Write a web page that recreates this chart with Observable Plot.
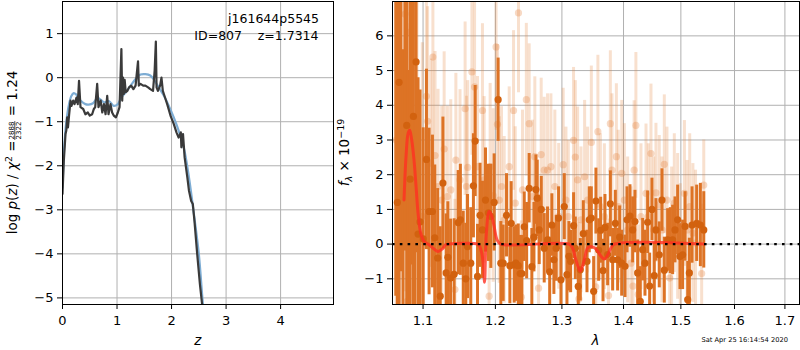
<!DOCTYPE html>
<html><head><meta charset="utf-8">
<script src="https://cdn.jsdelivr.net/npm/d3@7"></script>
<script src="https://cdn.jsdelivr.net/npm/@observablehq/plot@0.6"></script>
<style>
body{margin:0;background:#fff;}
#wrap{position:relative;width:800px;height:350px;overflow:hidden;font-family:"DejaVu Sans",sans-serif;}
#wrap > svg{position:absolute;top:0;}
</style></head><body><div id="wrap"></div>
<script>
// ---------- left panel: log p(z) ----------
const zTicks = [0, 1, 2, 3, 4];
const pTicks = [-5, -4, -3, -2, -1, 0, 1];
const zDark = [0, 0.024, 0.055, 0.07, 0.086, 0.10, 0.12, 0.147, 0.165, 0.196, 0.22, 0.257, 0.28, 0.303, 0.33, 0.38, 0.42, 0.465, 0.50, 0.544, 0.575, 0.60, 0.636, 0.66, 0.70, 0.73, 0.76, 0.79, 0.82, 0.844, 0.88, 0.91, 0.94, 0.98, 1.015, 1.046, 1.08, 1.095, 1.11, 1.125, 1.14, 1.16, 1.19, 1.22, 1.26, 1.30, 1.34, 1.385, 1.40, 1.43, 1.48, 1.52, 1.57, 1.61, 1.66, 1.69, 1.712, 1.725, 1.75, 1.79, 1.815, 1.84, 1.88, 1.92, 1.98, 2.04, 2.09, 2.13, 2.17, 2.18, 2.21, 2.24, 2.29, 2.32, 2.36, 2.39, 2.42, 2.47, 2.52, 2.56, 2.62];
const pDark = [-2.64, -1.89, -1.28, -1.2, -0.9, -1.13, -0.86, -0.52, -0.64, -0.52, -0.6, -0.45, -0.6, -0.07, -0.67, -0.71, -0.83, -0.79, -0.86, -0.83, -0.71, -0.67, -0.14, -0.67, -0.52, -0.79, -0.6, -0.83, -0.41, -0.83, -0.6, -0.79, -0.86, -0.9, -0.79, -0.67, 0.65, -0.52, 0.0, -0.37, -0.05, -0.33, -0.3, -0.22, -0.18, -0.26, -0.18, 0.37, -0.18, -0.14, -0.18, -0.18, -0.22, -0.26, -0.3, 0.16, 0.82, -0.22, -0.3, -0.18, 0.0, -0.3, -0.45, -0.6, -0.86, -1.05, -1.24, -1.36, -1.24, -1.58, -1.28, -1.81, -2.27, -2.57, -2.8, -2.87, -3.25, -4.0, -4.69, -5.14, -5.7];
const zBlue = [0, 0.03, 0.07, 0.12, 0.16, 0.207, 0.25, 0.33, 0.42, 0.48, 0.56, 0.64, 0.7, 0.76, 0.85, 0.94, 1.015, 1.076, 1.16, 1.25, 1.34, 1.43, 1.52, 1.61, 1.69, 1.77, 1.86, 1.95, 2.04, 2.13, 2.23, 2.32, 2.41, 2.5, 2.57, 2.64];
const pBlue = [-2.5, -1.6, -1.0, -0.6, -0.42, -0.35, -0.38, -0.52, -0.6, -0.61, -0.58, -0.46, -0.5, -0.56, -0.53, -0.64, -0.6, -0.45, -0.33, -0.18, -0.03, 0.07, 0.08, 0.05, -0.07, -0.23, -0.41, -0.64, -0.9, -1.2, -1.62, -2.27, -3.1, -4.0, -5.07, -6.0];

// ---------- right panel: spectrum ----------
const lamTicks = [1.1, 1.2, 1.3, 1.4, 1.5, 1.6, 1.7];
const fTicks = [-1, 0, 1, 2, 3, 4, 5, 6];
const darkWave = [
  1.0645, 1.0665, 1.0687, 1.0712, 1.0738, 1.0762, 1.0786, 1.0808, 1.0830, 1.0852, 1.0873, 1.0890, 1.0908, 1.0934, 1.0960,
  1.1002, 1.1045, 1.1080, 1.1125, 1.1156, 1.1195, 1.1230, 1.1266,
  1.1310, 1.1333, 1.1370, 1.1419, 1.1475, 1.1505, 1.1545, 1.1580, 1.1604, 1.1650, 1.1687, 1.1712, 1.1745, 1.1781, 1.1815, 1.1858, 1.1900, 1.1934, 1.1982,
  1.2040,
  1.2079, 1.2113, 1.2162, 1.2211, 1.2230, 1.2275, 1.2299, 1.2335, 1.2364, 1.2389,
  1.2424, 1.2460, 1.2498, 1.2538, 1.2570, 1.2599, 1.2620, 1.2650, 1.2681, 1.2726,
  1.2777, 1.2810, 1.2844, 1.2875, 1.2911, 1.2948, 1.2985, 1.3037, 1.3079, 1.3110,
  1.3137, 1.3184, 1.3211, 1.3258, 1.3291, 1.3339, 1.3398, 1.3435, 1.3468, 1.3506,
  1.3543, 1.3587, 1.3620, 1.3659, 1.3691, 1.3735, 1.3780, 1.3818, 1.3863, 1.3901,
  1.3935, 1.3969, 1.4025, 1.4059, 1.4109, 1.4155, 1.4194, 1.4240, 1.4285, 1.4326,
  1.4366, 1.4412, 1.4447, 1.4487, 1.4528, 1.4557, 1.4615, 1.4663, 1.4704, 1.4763,
  1.4810, 1.4852, 1.4894, 1.4942, 1.4984, 1.5032, 1.5076, 1.5124, 1.5154, 1.5203,
  1.5288, 1.5356, 1.5419];
const darkFlux = [
  7.5, 1.2, 4.66, 8.2, -2.4, 8.8, 3.42, -2.0, 1.87, 7.4, 3.68, -2.3, 5.25, 0.29, 0.64,
  0.15, 2.44, 0.94, 0.94, 0.18, -0.4, -1.5, 1.76,
  -0.83, -0.38, -0.98, -0.87, 0.62, 0.70, -0.55, -1.0, -0.07, -0.55, 1.68, 2.97, -0.93, 0.83, 0.41, 1.27, 0.9, 0.8, 1.2,
  4.16,
  -0.55, -0.55, 0.83, -0.62, 0.6, -0.6, -0.55, -0.62, -0.85, -0.85,
  0.5, 0.1, 1.61, -0.65, 0.2, 1.57, 1.32, 0.41, 1.0, -0.12,
  0.12, -0.8, 0.55, -0.45, -0.12, 0.75, -1.03, 1.08, -0.88, -0.35,
  -0.5, 0.53, -0.12, -1.22, -0.74, 0.3, -0.5, 0.7, 0.75, -1.36,
  1.24, -0.17, 0.4, -0.76, 0.48, -0.3, 1.16, -0.45, 0.6, -0.45,
  0.2, -0.55, -0.64, 0.7, 0.81, 0.41, 0.65, -0.83, -1.65, -0.16,
  -0.55, 0.63, -1.21, 1.0, -0.91, 0.41, -0.31, 1.27, -0.75, 0.12,
  0.1, 0.12, 0.41, 0.7, -0.36, -0.31, 0.51, -1.6, -0.83, 0.55,
  0.6, 0.55, 0.41];
const darkErr = [
  9, 8.5, 8, 9, 8, 9, 7.5, 7, 7, 8, 6.5, 6, 5.5, 4.5, 3.8,
  3.2, 2.6, 2.4, 2.2, 2.1, 2.0, 2.0, 1.9,
  1.7, 1.6, 1.7, 1.6, 1.5, 1.6, 1.5, 1.6, 1.5, 1.6, 1.5, 1.6, 1.5, 1.5, 1.4, 1.5, 1.4, 1.5, 1.4,
  1.2,
  1.2, 1.1, 1.2, 1.1, 1.2, 1.1, 1.1, 1.2, 1.1, 1.1,
  1.0, 1.1, 1.0, 1.1, 1.0, 1.0, 1.1, 1.0, 0.95, 1.0,
  0.95, 1.0, 0.9, 1.0, 0.95, 0.9, 1.0, 0.95, 0.9, 1.0,
  0.9, 0.95, 0.9, 1.0, 0.9, 0.95, 0.9, 0.95, 0.9, 1.0,
  0.95, 0.9, 0.95, 0.9, 0.95, 0.9, 0.95, 0.9, 0.95, 0.9,
  0.9, 0.95, 0.9, 0.95, 0.9, 0.95, 0.9, 0.95, 1.0, 0.9,
  0.95, 0.9, 0.95, 0.9, 0.95, 0.9, 0.95, 0.9, 0.95, 0.9,
  0.95, 1.0, 0.95, 1.0, 0.95, 1.0, 1.0, 1.1, 1.0, 1.1,
  1.1, 1.2, 1.1];
const lightWave = [
  1.0650, 1.0700, 1.0764, 1.0790, 1.0816, 1.0860, 1.0920, 1.0990,
  1.1044, 1.1060, 1.1102, 1.1131, 1.1160, 1.1200, 1.1250, 1.1283, 1.1327, 1.1373,
  1.1430, 1.1443, 1.1500, 1.1571, 1.1590, 1.1607, 1.1666, 1.1703, 1.1745, 1.1815,
  1.1839, 1.1910, 1.1925, 1.1968, 1.2010, 1.2030, 1.2055, 1.2089, 1.2128, 1.2201,
  1.2265, 1.2290, 1.2338, 1.2380, 1.2398, 1.2455, 1.2498, 1.2548, 1.2583, 1.2640,
  1.2680, 1.2726, 1.2777, 1.2829, 1.2890, 1.2950, 1.3020, 1.3063, 1.3100, 1.3183,
  1.3211, 1.3248, 1.3269, 1.3302, 1.3360, 1.3408, 1.3468, 1.3540, 1.3575, 1.3616,
  1.3681, 1.3750, 1.3780, 1.3807, 1.3880, 1.3912, 1.3970, 1.4014, 1.4070, 1.4126,
  1.4160, 1.4180, 1.4210, 1.4250, 1.4297, 1.4384, 1.4424, 1.4470, 1.4517, 1.4557,
  1.4615, 1.4663, 1.4704, 1.4751, 1.4800, 1.4834, 1.4882, 1.4942, 1.4990, 1.5064,
  1.5112, 1.5160, 1.5219, 1.5267, 1.5380, 1.5419];
const lightFlux = [
  3.0, 0.5, 6.63, -1.65, 6.1, 2.0, 1.0, 0.8,
  4.26, 3.54, 2.33, 5.39, 2.55, 1.66, 1.27, 2.74, 1.37, 1.56,
  -1.31, 2.42, 1.85, 3.9, 1.66, 2.21, 4.96, 4.53, 2.23, 3.85,
  1.85, -1.5, 2.23, 1.40, 5.68, 3.45, 1.27, 1.66, 0.70, 2.23,
  3.85, 1.18, 6.66, -1.53, 1.56, 4.16, 3.47, 1.37, 2.52, -1.27,
  2.58, 2.13, 2.13, 2.23, 1.66, 0.8, 2.29, 1.27, 0.79, 2.99,
  2.51, 1.85, -1.58, 0.70, 1.94, 1.27, 2.93, -1.23, 3.24, 1.08,
  0.79, -1.48, 3.47, 2.13, 2.52, 1.08, 2.04, 1.27, 0.41, -0.55,
  -1.21, 2.13, 3.42, -1.45, 0.79, 1.46, 0.79, 2.61, 0.41, 1.48,
  1.13, 0.41, 2.30, 1.27, -0.98, 0.12, 1.18, 0.51, -0.26, 1.46,
  0.41, 1.08, 0.32, 0.03, -0.85, 1.70];
const lightErr = [
  9, 9, 8, 8, 8, 7, 6, 5,
  3.5, 3.3, 3.0, 3.2, 3.0, 2.8, 2.7, 2.8, 2.6, 2.6,
  2.6, 2.5, 2.6, 2.5, 2.6, 2.5, 2.4, 2.5, 2.6, 2.5,
  2.4, 2.5, 2.4, 2.5, 2.4, 2.3, 2.4, 2.3, 2.4, 2.3,
  2.3, 2.2, 2.3, 2.2, 2.3, 2.2, 2.3, 2.2, 2.3, 2.2,
  2.2, 2.1, 2.2, 2.1, 2.2, 2.1, 2.2, 2.1, 2.2, 2.1,
  2.2, 2.1, 2.2, 2.1, 2.2, 2.1, 2.2, 2.1, 2.2, 2.1,
  2.1, 2.2, 2.1, 2.2, 2.1, 2.2, 2.1, 2.2, 2.1, 2.2,
  2.1, 2.0, 2.1, 2.0, 2.1, 2.0, 2.1, 2.0, 2.1, 2.0,
  2.0, 2.1, 2.0, 2.1, 2.0, 2.1, 2.0, 2.1, 2.0, 2.1,
  2.0, 2.1, 2.0, 2.1, 2.0, 1.3];
const modelWave = [1.0751, 1.0777, 1.0804, 1.0825, 1.0851, 1.0881, 1.0908, 1.0934, 1.0969, 1.1013, 1.1080, 1.1147, 1.1200, 1.1259, 1.1304, 1.1350, 1.1745, 1.1777, 1.1805, 1.1829, 1.1845, 1.1870, 1.1910, 1.1940, 1.1982, 1.2025, 1.2079, 1.3114, 1.3167, 1.3220, 1.3291, 1.3355, 1.3408, 1.3462, 1.3543, 1.3626, 1.3681, 1.3736, 1.3791, 1.3846, 1.5425];
const modelFlux = [1.27, 2.52, 3.19, 3.28, 3.0, 2.42, 1.66, 0.89, 0.32, 0.08, -0.02, -0.14, -0.21, -0.14, -0.02, 0, 0, -0.07, -0.26, -0.64, -1.1, 0.3, 0.94, 0.85, 0.51, 0.12, 0, 0, -0.11, -0.45, -0.78, -0.45, -0.11, -0.07, -0.14, -0.35, -0.43, -0.31, -0.11, 0, 0];

// ---------- build tables ----------
const darkLine = zDark.map((z, i) => ({z, p: pDark[i]}));
const blueLine = zBlue.map((z, i) => ({z, p: pBlue[i]}));
const dark = darkWave.map((w, i) => ({w, f: darkFlux[i], e: darkErr[i]}));
const light = lightWave.map((w, i) => ({w, f: lightFlux[i], e: lightErr[i]}));
const model = modelWave.map((w, i) => ({w, f: modelFlux[i]}));

const minus = d => (d < 0 ? "\u2212" + Math.abs(d) : String(d));
const gridStyle = {stroke: "#b0b0b0", strokeOpacity: 1, strokeWidth: 1};
const baseStyle = {fontFamily: "DejaVu Sans", fontSize: "13px", background: "transparent", overflow: "visible", color: "black"};

const left = Plot.plot({
  width: 340, height: 350, marginLeft: 62, marginRight: 7, marginTop: 1, marginBottom: 46,
  style: baseStyle,
  x: {domain: [0, 4.97]},
  y: {domain: [-5.15, 1.73]},
  marks: [
    Plot.gridX(zTicks, gridStyle),
    Plot.gridY(pTicks, gridStyle),
    Plot.line(blueLine, {x: "z", y: "p", stroke: "#7eadd4", strokeWidth: 2.2, curve: "catmull-rom", clip: true}),
    Plot.line(darkLine, {x: "z", y: "p", stroke: "#3a3a3a", strokeWidth: 2.2, clip: true}),
    Plot.frame({stroke: "black", strokeWidth: 1}),
    Plot.axisX(zTicks, {tickSize: 5, tickPadding: 6, label: null, tickFormat: minus}),
    Plot.axisY(pTicks, {tickSize: 5, tickPadding: 4, label: null, tickFormat: minus})
  ]
});

const orange = "#dd7325";
const right = Plot.plot({
  width: 460, height: 350, marginLeft: 52, marginRight: 1, marginTop: 1, marginBottom: 46,
  style: baseStyle,
  x: {type: "log", domain: [1.0603, 1.7301]},
  y: {domain: [-1.74, 6.99]},
  marks: [
    Plot.gridX(lamTicks, gridStyle),
    Plot.gridY(fTicks, gridStyle),
    Plot.ruleX(light, {x: "w", y1: d => d.f - d.e, y2: d => d.f + d.e, stroke: "#e5823a", strokeOpacity: 0.25, strokeWidth: 3, clip: true}),
    Plot.dot(light, {x: "w", y: "f", r: 3.6, fill: "#e5823a", fillOpacity: 0.3, clip: true}),
    Plot.ruleX(dark, {x: "w", y1: d => d.f - d.e, y2: d => d.f + d.e, stroke: orange, strokeWidth: 3, clip: true}),
    Plot.dot(dark, {x: "w", y: "f", r: 3.6, fill: "#d2620f", clip: true}),
    Plot.line(model, {x: "w", y: "f", stroke: "#ff2f22", strokeOpacity: 0.8, strokeWidth: 3, curve: "catmull-rom", clip: true}),
    Plot.ruleY([0], {stroke: "black", strokeWidth: 2.2, strokeDasharray: "2.6,5.2"}),
    Plot.frame({stroke: "black", strokeWidth: 1}),
    Plot.axisX(lamTicks, {tickSize: 5, tickPadding: 6, label: null, tickFormat: d3.format(".1f")}),
    Plot.axisY(fTicks, {tickSize: 5, tickPadding: 4, label: null, tickFormat: minus})
  ]
});

const wrap = document.getElementById("wrap");
left.style.left = "0px";
right.style.left = "340px";
wrap.appendChild(left);
wrap.appendChild(right);

// ---------- labels & annotations ----------
const NS = "http://www.w3.org/2000/svg";
const ov = document.createElementNS(NS, "svg");
ov.setAttribute("width", 800); ov.setAttribute("height", 350);
ov.style.left = "0px"; ov.style.pointerEvents = "none";
ov.setAttribute("font-family", "DejaVu Sans");
wrap.appendChild(ov);
function el(tag, attrs, parent) {
  const e = document.createElementNS(NS, tag);
  for (const k in attrs) e.setAttribute(k, attrs[k]);
  (parent || ov).appendChild(e);
  return e;
}
function txt(s, attrs, parent) { const t = el("text", attrs, parent); t.textContent = s; return t; }
function span(parent, s, attrs) { const t = el("tspan", attrs || {}, parent); t.textContent = s; return t; }

txt("j161644p5545", {x: 319, y: 23, "text-anchor": "end", "font-size": 12.5});
txt("ID=807", {x: 242, y: 39.5, "text-anchor": "end", "font-size": 12.5});
txt("z=1.7314", {x: 318.5, y: 39.5, "text-anchor": "end", "font-size": 12.5});

txt("z", {x: 197.7, y: 344.5, "text-anchor": "middle", "font-size": 13.5, "font-style": "italic"});
txt("λ", {x: 595.5, y: 344.5, "text-anchor": "middle", "font-size": 13.5, "font-style": "italic"});
txt("Sat Apr 25 16:14:54 2020", {x: 788, y: 341.5, "text-anchor": "end", "font-size": 6.7});

// left y label with fraction
const gL = el("g", {transform: "translate(17,152.5) rotate(-90)"});
const inner = el("g", {}, gL);
const t1 = el("text", {x: 0, y: 0, "font-size": 13.5}, inner);
span(t1, "log ");
span(t1, "p", {"font-style": "italic"});
span(t1, "(");
span(t1, "z", {"font-style": "italic"});
span(t1, ") / ");
span(t1, "χ", {"font-style": "italic"});
span(t1, "2", {"font-size": 9.5, dy: -5.5});
span(t1, " = ", {dy: 5.5});
const w1 = t1.getComputedTextLength();
const num = txt("2888", {x: 0, y: -3.2, "font-size": 7, "text-anchor": "middle"}, inner);
const den = txt("2322", {x: 0, y: 4.3, "font-size": 7, "text-anchor": "middle"}, inner);
const fw = Math.max(num.getComputedTextLength(), den.getComputedTextLength()) + 1;
num.setAttribute("x", w1 + 0.5 + fw / 2);
den.setAttribute("x", w1 + 0.5 + fw / 2);
el("line", {x1: w1 + 0.5, x2: w1 + 0.5 + fw, y1: -2.2, y2: -2.2, stroke: "black", "stroke-width": 0.7}, inner);
const t3 = txt(" = 1.24", {x: w1 + fw + 1, y: 0, "font-size": 13.5}, inner);
t3.setAttribute("style", "white-space:pre");
const total = w1 + fw + 1 + t3.getComputedTextLength();
inner.setAttribute("transform", `translate(${-total / 2},0)`);

// right y label
const gR = el("g", {transform: "translate(349,152.5) rotate(-90)"});
const tr = el("text", {x: 0, y: 0, "font-size": 13.5, "text-anchor": "middle"}, gR);
span(tr, "f", {"font-style": "italic"});
span(tr, "λ", {"font-size": 9.5, "font-style": "italic", dy: 3});
span(tr, " × 10", {dy: -3});
span(tr, "−19", {"font-size": 9.5, dy: -5.5});
</script></body></html>
